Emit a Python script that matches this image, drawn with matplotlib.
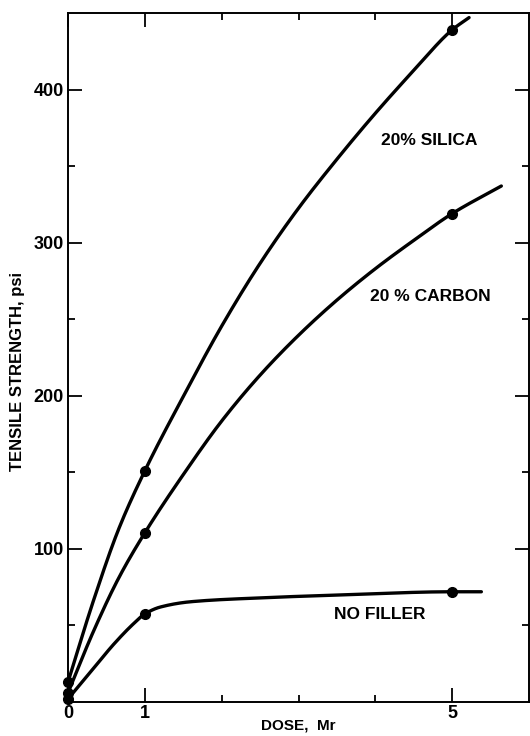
import numpy as np
import matplotlib
matplotlib.use("Agg")
import matplotlib.pyplot as plt
from matplotlib.ticker import FixedLocator, NullFormatter

# Measured points (dose in Mr, tensile strength in psi)
dose_points = [0, 1, 5]
silica_points = [13, 151, 439]
carbon_points = [6, 110.5, 319]
nofill_points = [2, 57.5, 72]

# Hand-faired curves through the measurements
silica_curve_x = [0, 0.33, 0.66, 1.0, 1.5, 2.0, 2.5, 3.0, 3.5, 4.0, 4.5, 5.0, 5.22]
silica_curve_y = [13, 66, 113, 151, 199.5, 245.5, 286.5, 322.5, 354.5, 384.5, 412.5, 439, 447]
carbon_curve_x = [0, 0.33, 0.66, 1.0, 1.5, 2.0, 2.5, 3.0, 3.5, 4.0, 4.5, 5.0, 5.64]
carbon_curve_y = [6, 46, 81, 110.5, 148.5, 183.5, 213.5, 239.5, 262.5, 283, 301.5, 319, 337]
nofill_curve_x = [0, 0.3, 0.6, 0.85, 1.0, 1.2, 1.6, 2.5, 3.6, 5.0, 5.38]
nofill_curve_y = [2, 20, 38, 51, 57.5, 62, 65.5, 68, 70, 72, 72]

curve_labels = ["20% SILICA", "20 % CARBON", "NO FILLER"]
label_x = [4.70, 4.71, 4.06]
label_y = [367, 265, 57]

x_tick_major = [0, 1, 5]
x_tick_labels = ["0", "1", "5"]
x_tick_minor = [2, 3, 4]
y_tick_major = [100, 200, 300, 400]
y_tick_minor = [50, 150, 250, 350]


def pchip(xk, yk, xs):
    """Shape-preserving piecewise cubic through the knots."""
    xk = np.asarray(xk, float)
    yk = np.asarray(yk, float)
    h = np.diff(xk)
    d = np.diff(yk) / h
    n = len(xk)
    m = np.zeros(n)
    for i in range(1, n - 1):
        if d[i - 1] * d[i] <= 0:
            m[i] = 0.0
        else:
            w1 = 2 * h[i] + h[i - 1]
            w2 = h[i] + 2 * h[i - 1]
            m[i] = (w1 + w2) / (w1 / d[i - 1] + w2 / d[i])
    m[0] = d[0]
    m[-1] = d[-1]
    idx = np.clip(np.searchsorted(xk, xs) - 1, 0, n - 2)
    t = (xs - xk[idx]) / h[idx]
    h00 = 2 * t**3 - 3 * t**2 + 1
    h10 = t**3 - 2 * t**2 + t
    h01 = -2 * t**3 + 3 * t**2
    h11 = t**3 - t**2
    return (h00 * yk[idx] + h10 * h[idx] * m[idx]
            + h01 * yk[idx + 1] + h11 * h[idx] * m[idx + 1])


font = ["Liberation Sans", "DejaVu Sans"]
plt.rcParams["font.family"] = font

fig = plt.figure(figsize=(5.30, 7.36), dpi=100)
ax = fig.add_axes([68 / 530, 34 / 736, 461 / 530, 689 / 736])

lw = 2.4
for cx, cy in [(silica_curve_x, silica_curve_y),
               (carbon_curve_x, carbon_curve_y),
               (nofill_curve_x, nofill_curve_y)]:
    xs = np.linspace(cx[0], cx[-1], 400)
    ax.plot(xs, pchip(cx, cy, xs), color="black", lw=lw,
            solid_capstyle="round", clip_on=False, zorder=3)

for vals in [silica_points, carbon_points, nofill_points]:
    ax.plot(dose_points, vals, "o", color="black", ms=7, clip_on=False, zorder=4)

for txt, lx, ly in zip(curve_labels, label_x, label_y):
    ax.text(lx, ly, txt, ha="center", va="center", fontsize=12.5,
            fontweight="bold")

ax.set_xlim(0, 6)
ax.set_ylim(0, 450)

ax.xaxis.set_major_locator(FixedLocator(x_tick_major))
ax.set_xticklabels(x_tick_labels)
ax.xaxis.set_minor_locator(FixedLocator(x_tick_minor))
ax.yaxis.set_major_locator(FixedLocator(y_tick_major))
ax.yaxis.set_minor_locator(FixedLocator(y_tick_minor))
ax.yaxis.set_minor_formatter(NullFormatter())

ax.tick_params(axis="both", which="major", direction="in", length=10,
               width=1.3, top=True, right=True, labelsize=13, pad=3)
ax.tick_params(axis="x", which="major", pad=2)
ax.tick_params(axis="both", which="minor", direction="in", length=5,
               width=1.3, top=True, right=True)
for lab in ax.get_xticklabels() + ax.get_yticklabels():
    lab.set_fontweight("bold")

for sp in ax.spines.values():
    sp.set_linewidth(1.4)

ax.set_xlabel("DOSE,  Mr", fontsize=11, fontweight="bold", va="center")
ax.xaxis.set_label_coords(0.5, -24 / 689)
ax.set_ylabel("TENSILE STRENGTH, psi", fontsize=12, fontweight="bold", va="center")
ax.yaxis.set_label_coords(-50 / 461, 0.48)

fig.savefig("out.png", dpi=100)
